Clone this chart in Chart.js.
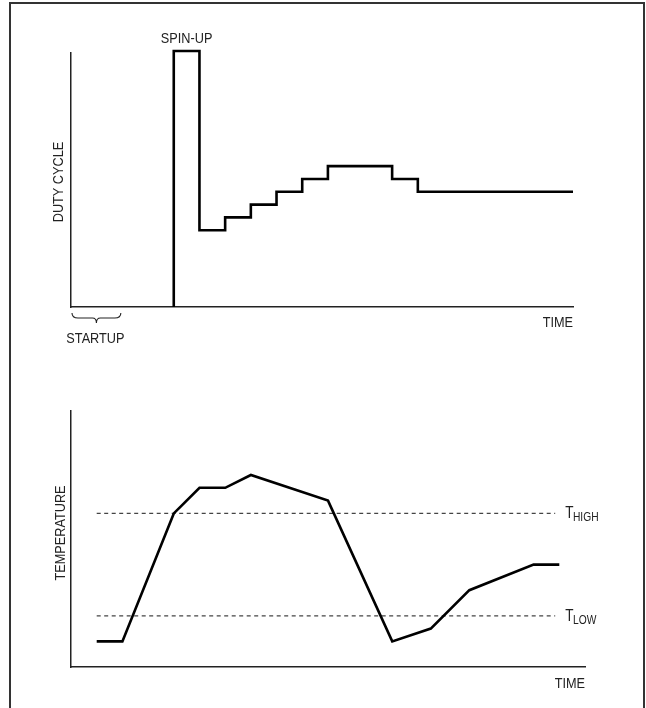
<!DOCTYPE html>
<html>
<head>
<meta charset="utf-8">
<script src="https://cdn.jsdelivr.net/npm/chart.js@4.4.1/dist/chart.umd.min.js"></script>
<style>
    body { margin: 0; background: #fff; }
    #frame {
        position: absolute; left: 9px; top: 2px; width: 632px; height: 704px;
        border-left: 2px solid #333; border-top: 2px solid #333; border-right: 2px solid #333;
        border-bottom: 1px solid #ddd;
    }
    canvas { position: absolute; left: 0; }
    #js--chart--1 { top: 0; }
    #js--chart--2 { top: 380px; }
</style>
</head>
<body>
<div id="frame"></div>
<canvas id="js--chart--1" width="646" height="360"></canvas>
<canvas id="js--chart--2" width="646" height="328"></canvas>
<script>
// top graph: fan duty cycle, bottom graph: temperature
const dutyTime = [20, 20, 25, 30, 35, 40, 45, 50, 62.5, 67.5, 97.7];
const dutyCycle = [0, 100, 30, 35, 40, 45, 50, 55, 50, 45, 45];

const tempTime = [5, 10, 20, 25, 30, 35, 50, 62.5, 70, 77.5, 90, 95];
const temperature = [10, 10, 60, 70, 70, 75, 65, 10, 15, 30, 40, 40];

const limitTime = [5, 94.2];
const tHigh = 60;
const tLow = 20;

const startupTime = [0, 9.7];

const FONT = '"Liberation Sans", Arial, sans-serif';
const INK = '#222';

// narrow text (like Arial Narrow), x/y is the middle of the capitals
function narrowText(c, text, x, y, size, align, rot) {
    c.save();
    c.translate(x, y);
    if (rot) c.rotate(rot);
    c.scale(0.82, 1);
    c.font = size + 'px ' + FONT;
    c.fillStyle = INK;
    c.textAlign = align;
    c.textBaseline = 'alphabetic';
    c.fillText(text, 0, size * 0.716 / 2);
    const w = c.measureText(text).width * 0.82;
    c.restore();
    return w;
}

function points(xs, ys) {
    return xs.map((x, i) => ({x: x, y: ys[i]}));
}

function axis(max) {
    return {
        type: 'linear',
        min: 0,
        max: max,
        grid: {display: false, drawTicks: false},
        ticks: {display: false},
        border: {display: true, color: INK, width: 1.5}
    };
}

// text on the top graph
const dutyLabels = {
    id: 'dutyLabels',
    afterDraw(chart) {
        const c = chart.ctx;
        const x = chart.scales.x;
        const y = chart.scales.y;
        const area = chart.chartArea;

        narrowText(c, 'DUTY CYCLE', area.left - 14, (area.top + area.bottom) / 2 + 2, 15.5, 'center', -Math.PI / 2);
        narrowText(c, 'TIME', area.right, area.bottom + 14.5, 15.5, 'right');
        narrowText(c, 'SPIN-UP', (x.getPixelForValue(dutyTime[1]) + x.getPixelForValue(dutyTime[2])) / 2,
            y.getPixelForValue(dutyCycle[1]) - 14, 15.5, 'center');

        // brace under the startup part
        const x0 = x.getPixelForValue(startupTime[0]) + 1;
        const x1 = x.getPixelForValue(startupTime[1]);
        const xm = (x0 + x1) / 2;
        const y0 = area.bottom + 6;
        c.save();
        c.strokeStyle = INK;
        c.lineWidth = 1.1;
        c.beginPath();
        c.moveTo(x0, y0);
        c.quadraticCurveTo(x0, y0 + 5, x0 + 6, y0 + 5);
        c.lineTo(xm - 4, y0 + 5);
        c.quadraticCurveTo(xm, y0 + 5, xm, y0 + 10);
        c.quadraticCurveTo(xm, y0 + 5, xm + 4, y0 + 5);
        c.lineTo(x1 - 6, y0 + 5);
        c.quadraticCurveTo(x1, y0 + 5, x1, y0);
        c.stroke();
        c.restore();
        narrowText(c, 'STARTUP', xm - 1, area.bottom + 30.5, 15.5, 'center');
    }
};

// text on the bottom graph
const tempLabels = {
    id: 'tempLabels',
    afterDraw(chart) {
        const c = chart.ctx;
        const x = chart.scales.x;
        const y = chart.scales.y;
        const area = chart.chartArea;

        narrowText(c, 'TEMPERATURE', area.left - 12, (area.top + area.bottom) / 2 - 6, 15.5, 'center', -Math.PI / 2);
        narrowText(c, 'TIME', area.right, area.bottom + 15.5, 15.5, 'right');

        const lx = x.getPixelForValue(limitTime[1]) + 10;
        [[tHigh, 'HIGH'], [tLow, 'LOW']].forEach(function (l) {
            const ly = y.getPixelForValue(l[0]) - 1;
            const w = narrowText(c, 'T', lx, ly, 16.5, 'left');
            narrowText(c, l[1], lx + w - 0.5, ly + 4.5, 12.5, 'left');
        });
    }
};

new Chart(document.getElementById('js--chart--1'), {
    type: 'line',
    data: {
        datasets: [{
            data: points(dutyTime, dutyCycle),
            stepped: true,
            borderColor: '#000',
            borderWidth: 2.6,
            borderJoinStyle: 'miter',
            pointRadius: 0,
            clip: false
        }]
    },
    options: {
        responsive: false,
        animation: false,
        layout: {padding: {left: 71, right: 73, top: 53, bottom: 53}},
        plugins: {legend: {display: false}, tooltip: {enabled: false}},
        scales: {
            x: axis(97.7),
            y: axis(99.2)
        }
    },
    plugins: [dutyLabels]
});

new Chart(document.getElementById('js--chart--2'), {
    type: 'line',
    data: {
        datasets: [{
            data: points(tempTime, temperature),
            borderColor: '#000',
            borderWidth: 2.6,
            borderJoinStyle: 'miter',
            pointRadius: 0,
            tension: 0
        }, {
            data: points(limitTime, [tHigh, tHigh]),
            borderColor: '#444',
            borderWidth: 1.2,
            borderDash: [4, 3.5],
            pointRadius: 0
        }, {
            data: points(limitTime, [tLow, tLow]),
            borderColor: '#444',
            borderWidth: 1.2,
            borderDash: [4, 3.5],
            pointRadius: 0
        }]
    },
    options: {
        responsive: false,
        animation: false,
        layout: {padding: {left: 71, right: 61, top: 31, bottom: 41}},
        plugins: {legend: {display: false}, tooltip: {enabled: false}},
        scales: {
            x: axis(100),
            y: axis(100)
        }
    },
    plugins: [tempLabels]
});
</script>
</body>
</html>
